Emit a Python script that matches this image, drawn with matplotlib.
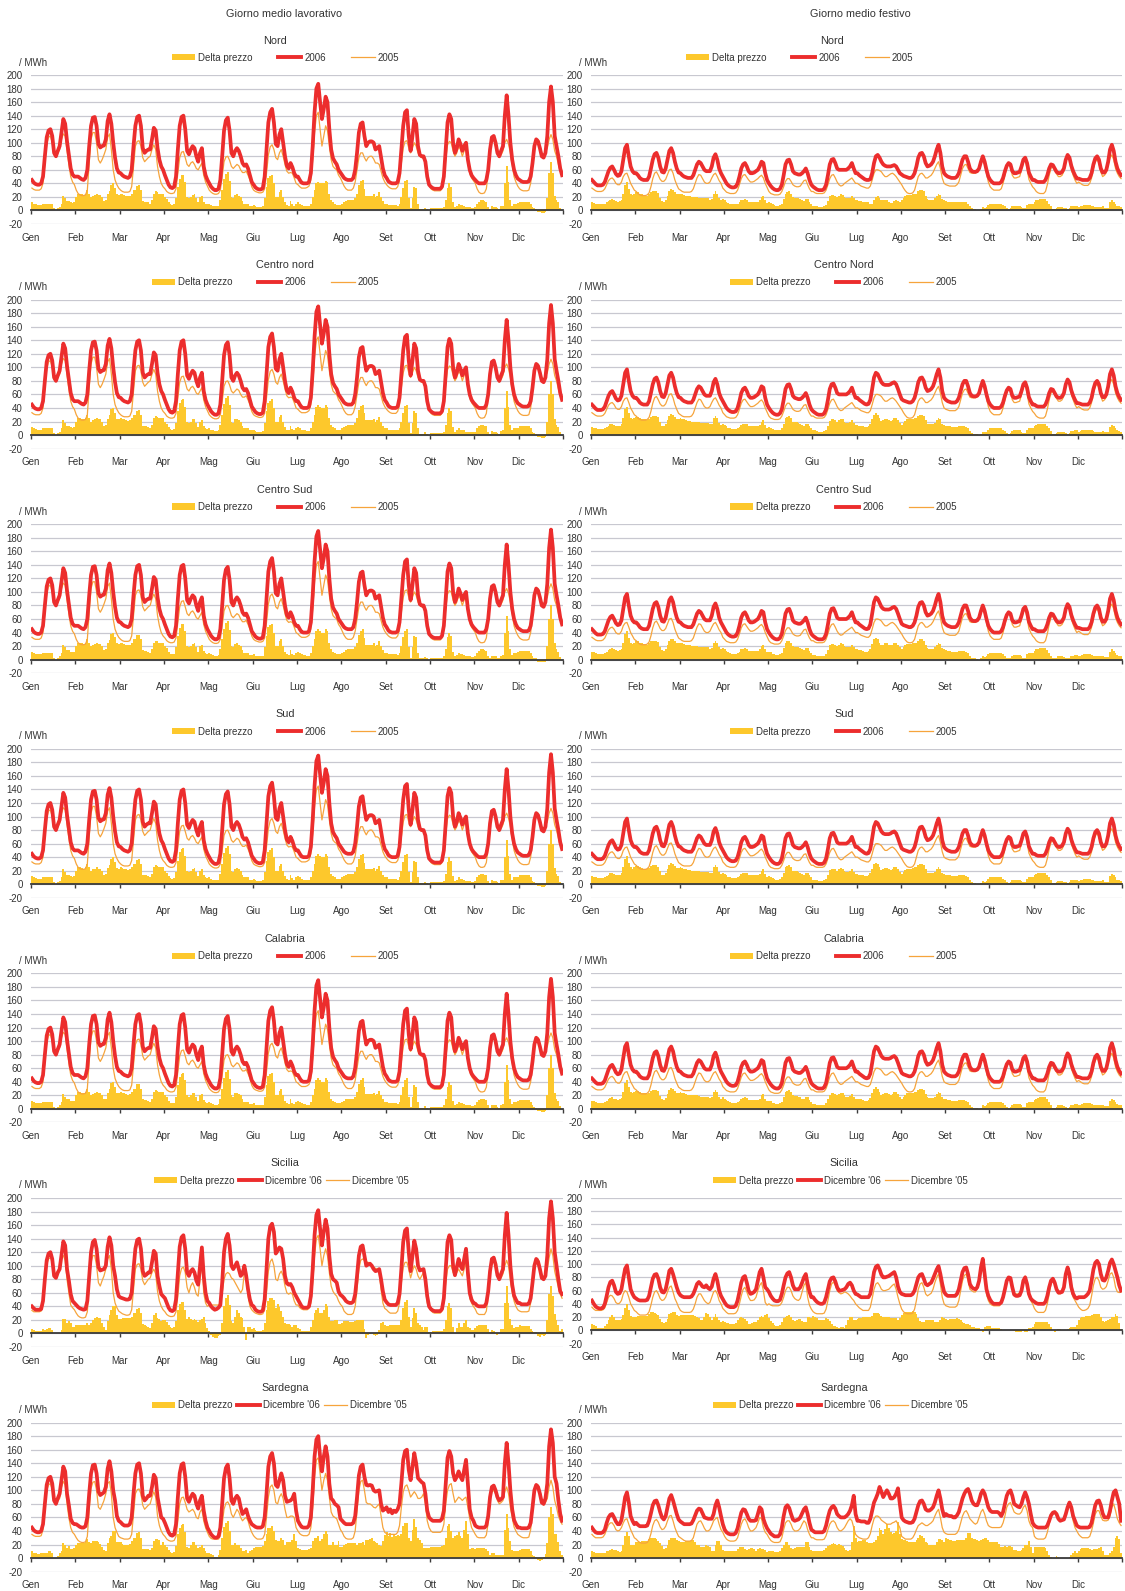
import numpy as np
import matplotlib.pyplot as plt
from matplotlib.patches import Patch
from matplotlib.lines import Line2D

plt.rcParams['font.family'] = ['Liberation Sans', 'DejaVu Sans']

mesi = ['Gen', 'Feb', 'Mar', 'Apr', 'Mag', 'Giu', 'Lug', 'Ago', 'Set', 'Ott', 'Nov', 'Dic']
y_ticks = list(range(-20, 201, 20))

# one row of 24 hourly prices for each month

# giorno lavorativo - Nord
nord_lav_06 = [
    [45, 41, 39, 38, 38, 40, 50, 80, 108, 118, 120, 110, 85, 80, 88, 95, 115, 135, 128, 102, 82, 62, 53, 50],
    [50, 50, 48, 46, 45, 48, 60, 95, 125, 137, 138, 125, 98, 93, 95, 96, 105, 132, 142, 128, 100, 78, 62, 56],
    [55, 52, 50, 49, 48, 50, 60, 95, 125, 138, 140, 125, 92, 85, 88, 90, 90, 105, 122, 118, 92, 75, 65, 60],
    [52, 45, 38, 34, 33, 35, 50, 90, 125, 138, 140, 120, 88, 83, 90, 95, 92, 80, 72, 85, 92, 65, 52, 45],
    [40, 35, 32, 30, 30, 32, 45, 80, 118, 133, 137, 118, 85, 80, 88, 92, 88, 80, 70, 66, 68, 62, 52, 42],
    [38, 34, 32, 31, 31, 33, 50, 90, 130, 145, 150, 130, 98, 95, 112, 120, 100, 80, 66, 62, 70, 64, 55, 50],
    [50, 45, 41, 40, 40, 40, 42, 55, 95, 145, 180, 187, 160, 135, 150, 168, 160, 120, 90, 77, 72, 68, 60, 56],
    [52, 48, 46, 45, 45, 45, 48, 60, 85, 115, 128, 130, 110, 95, 100, 102, 102, 100, 90, 92, 95, 78, 62, 52],
    [48, 43, 41, 40, 40, 40, 42, 55, 90, 125, 145, 148, 110, 88, 110, 135, 128, 95, 82, 80, 80, 72, 50, 38],
    [35, 33, 32, 32, 32, 32, 35, 50, 90, 130, 142, 135, 100, 85, 92, 105, 98, 88, 95, 100, 75, 60, 52, 48],
    [45, 42, 40, 40, 40, 40, 45, 60, 90, 108, 110, 100, 85, 80, 88, 95, 140, 170, 140, 100, 75, 60, 52, 47],
    [45, 43, 42, 42, 42, 43, 50, 70, 95, 105, 102, 92, 80, 78, 85, 110, 160, 183, 160, 110, 95, 80, 62, 52],
]
nord_lav_05 = [
    [33, 31, 30, 30, 30, 32, 40, 70, 98, 108, 110, 100, 82, 80, 85, 90, 105, 113, 110, 88, 68, 50, 42, 38],
    [30, 25, 23, 22, 22, 23, 30, 70, 105, 115, 115, 100, 75, 70, 75, 82, 90, 108, 113, 90, 60, 45, 38, 33],
    [30, 28, 27, 27, 27, 28, 35, 65, 95, 102, 103, 95, 78, 72, 75, 78, 80, 90, 97, 90, 65, 50, 40, 35],
    [32, 28, 26, 25, 25, 26, 32, 55, 78, 86, 87, 78, 68, 65, 70, 72, 68, 62, 60, 65, 70, 52, 42, 36],
    [30, 27, 25, 24, 24, 25, 30, 50, 72, 79, 80, 74, 65, 62, 65, 68, 66, 60, 56, 56, 58, 52, 45, 35],
    [30, 28, 27, 26, 26, 27, 32, 55, 82, 94, 97, 90, 78, 75, 85, 90, 80, 68, 58, 55, 56, 55, 48, 40],
    [38, 35, 33, 33, 33, 34, 36, 45, 75, 115, 140, 145, 120, 95, 110, 125, 118, 95, 75, 65, 62, 60, 52, 48],
    [42, 36, 32, 30, 30, 30, 33, 42, 60, 78, 85, 85, 78, 73, 78, 80, 80, 76, 70, 70, 68, 58, 48, 42],
    [38, 35, 33, 32, 32, 32, 35, 45, 70, 92, 102, 103, 92, 85, 92, 100, 95, 85, 80, 78, 78, 68, 48, 38],
    [32, 30, 29, 29, 29, 29, 32, 45, 75, 97, 102, 100, 88, 80, 85, 95, 90, 80, 88, 95, 70, 55, 48, 44],
    [40, 32, 27, 25, 25, 26, 32, 55, 88, 102, 105, 95, 82, 78, 82, 88, 100, 105, 98, 85, 68, 50, 42, 36],
    [32, 30, 29, 29, 29, 30, 40, 65, 92, 103, 105, 95, 84, 82, 88, 92, 105, 112, 105, 88, 80, 68, 58, 52],
]

# giorno lavorativo - centre / south zones: same as Nord except July and December
centro_lav_06 = [list(m) for m in nord_lav_06]
centro_lav_06[6] = [50, 45, 41, 40, 40, 40, 42, 55, 95, 145, 182, 190, 162, 135, 150, 170, 160, 120, 90, 77, 72, 68, 60, 56]
centro_lav_06[11] = [45, 43, 42, 42, 42, 43, 50, 70, 95, 105, 102, 92, 80, 78, 85, 112, 165, 192, 165, 112, 95, 80, 62, 52]

# giorno lavorativo - Sicilia
sic_lav_06 = [
    [40, 37, 35, 35, 35, 36, 48, 80, 108, 118, 120, 110, 85, 82, 90, 95, 115, 136, 130, 95, 78, 58, 48, 45],
    [42, 39, 37, 36, 35, 36, 48, 85, 120, 135, 138, 125, 98, 93, 94, 95, 100, 128, 142, 130, 100, 85, 65, 55],
    [53, 52, 51, 50, 50, 51, 60, 95, 125, 138, 140, 125, 92, 85, 87, 90, 90, 105, 122, 118, 85, 70, 58, 55],
    [52, 45, 38, 34, 33, 35, 50, 90, 128, 142, 145, 125, 90, 85, 92, 95, 90, 78, 72, 100, 127, 85, 60, 48],
    [45, 40, 37, 35, 36, 38, 42, 75, 120, 140, 147, 130, 100, 95, 100, 105, 95, 85, 88, 100, 85, 65, 50, 42],
    [40, 35, 33, 32, 32, 34, 50, 95, 140, 158, 162, 150, 118, 122, 127, 125, 110, 85, 74, 72, 73, 68, 60, 55],
    [50, 45, 40, 38, 38, 38, 40, 55, 95, 145, 175, 182, 155, 130, 150, 168, 155, 115, 88, 80, 78, 75, 62, 57],
    [55, 52, 48, 46, 45, 45, 47, 58, 85, 115, 128, 130, 115, 100, 102, 103, 100, 95, 92, 93, 95, 80, 62, 50],
    [46, 43, 42, 42, 42, 42, 45, 58, 95, 135, 152, 155, 120, 92, 115, 137, 125, 100, 93, 94, 95, 80, 55, 40],
    [36, 34, 33, 33, 33, 33, 36, 52, 95, 135, 145, 138, 100, 86, 98, 110, 100, 95, 110, 125, 90, 60, 50, 45],
    [44, 41, 40, 40, 40, 40, 45, 62, 92, 110, 112, 102, 86, 80, 88, 95, 145, 178, 145, 100, 72, 56, 50, 45],
    [45, 43, 43, 43, 43, 44, 52, 75, 100, 110, 106, 95, 82, 80, 85, 115, 170, 195, 170, 120, 100, 80, 62, 58],
]
sic_lav_05 = [
    [34, 32, 32, 32, 32, 33, 42, 75, 102, 110, 112, 105, 85, 82, 90, 95, 110, 115, 108, 80, 60, 42, 38, 35],
    [30, 26, 24, 23, 23, 24, 32, 72, 105, 115, 115, 100, 75, 70, 78, 85, 95, 110, 115, 95, 60, 45, 38, 33],
    [31, 29, 28, 27, 27, 28, 35, 65, 95, 102, 103, 95, 78, 72, 76, 80, 82, 90, 95, 88, 62, 48, 40, 35],
    [32, 28, 26, 25, 25, 26, 32, 55, 85, 96, 98, 90, 68, 60, 70, 75, 68, 58, 55, 80, 105, 60, 45, 40],
    [42, 42, 42, 42, 42, 42, 45, 60, 80, 88, 90, 88, 82, 80, 75, 70, 65, 60, 65, 90, 95, 55, 40, 35],
    [32, 30, 29, 28, 28, 29, 35, 60, 92, 106, 110, 100, 80, 78, 88, 92, 85, 70, 60, 58, 60, 58, 48, 42],
    [42, 38, 36, 35, 35, 35, 37, 45, 75, 115, 140, 145, 125, 100, 115, 125, 115, 90, 70, 62, 58, 55, 48, 43],
    [40, 33, 30, 28, 28, 28, 30, 40, 65, 95, 108, 110, 108, 106, 105, 104, 100, 98, 96, 95, 90, 65, 45, 37],
    [35, 32, 30, 30, 30, 30, 33, 45, 75, 98, 105, 105, 95, 82, 92, 100, 95, 85, 80, 85, 90, 70, 45, 38],
    [34, 31, 30, 30, 30, 30, 33, 45, 75, 95, 100, 100, 90, 85, 90, 95, 90, 85, 95, 105, 80, 52, 45, 40],
    [36, 30, 28, 28, 28, 28, 33, 55, 90, 105, 108, 102, 88, 80, 82, 88, 100, 108, 100, 78, 60, 48, 40, 35],
    [33, 32, 32, 32, 32, 33, 45, 72, 98, 108, 110, 100, 85, 84, 88, 95, 112, 125, 115, 92, 80, 68, 58, 52],
]

# giorno lavorativo - Sardegna
sar_lav_06 = [
    [45, 41, 39, 38, 38, 40, 50, 80, 108, 118, 120, 110, 85, 80, 88, 95, 115, 135, 128, 95, 78, 58, 52, 50],
    [50, 48, 46, 45, 45, 47, 60, 95, 125, 137, 138, 125, 98, 93, 95, 97, 105, 132, 143, 128, 100, 85, 62, 55],
    [53, 50, 48, 48, 48, 50, 60, 95, 125, 138, 140, 125, 92, 85, 88, 92, 92, 105, 123, 118, 90, 75, 60, 58],
    [52, 45, 38, 34, 33, 35, 50, 90, 125, 138, 140, 120, 88, 83, 90, 95, 92, 80, 73, 85, 92, 70, 55, 45],
    [40, 35, 32, 30, 30, 32, 45, 80, 118, 133, 138, 118, 85, 80, 88, 92, 88, 75, 65, 68, 72, 62, 55, 50],
    [48, 46, 45, 45, 45, 47, 60, 95, 135, 150, 155, 140, 108, 105, 115, 125, 115, 92, 83, 84, 85, 88, 95, 70],
    [55, 50, 46, 45, 45, 45, 48, 60, 100, 150, 175, 180, 150, 128, 150, 165, 150, 110, 88, 85, 80, 78, 75, 58],
    [55, 52, 50, 50, 50, 50, 52, 62, 90, 122, 135, 138, 120, 108, 107, 108, 107, 100, 98, 99, 100, 80, 70, 72],
    [75, 68, 72, 66, 70, 68, 72, 80, 110, 145, 158, 160, 130, 115, 135, 155, 140, 118, 115, 112, 110, 95, 70, 60],
    [57, 55, 55, 55, 55, 55, 58, 70, 110, 148, 158, 150, 125, 115, 120, 128, 120, 115, 130, 145, 110, 72, 60, 55],
    [48, 46, 45, 45, 45, 45, 48, 62, 90, 105, 107, 100, 90, 85, 87, 90, 140, 170, 140, 100, 72, 56, 50, 45],
    [45, 44, 44, 44, 44, 45, 52, 75, 100, 108, 105, 95, 82, 80, 88, 110, 165, 190, 170, 120, 110, 85, 65, 55],
]
sar_lav_05 = [
    [35, 33, 32, 32, 32, 33, 42, 72, 100, 108, 110, 102, 85, 80, 85, 88, 105, 113, 108, 80, 60, 45, 38, 35],
    [30, 26, 24, 23, 23, 24, 32, 72, 103, 112, 113, 100, 75, 72, 78, 85, 95, 110, 113, 95, 60, 45, 38, 32],
    [30, 29, 28, 28, 28, 29, 35, 65, 95, 101, 102, 95, 78, 72, 75, 78, 80, 90, 98, 90, 62, 48, 40, 35],
    [32, 28, 26, 25, 25, 26, 32, 55, 80, 89, 90, 82, 72, 68, 70, 72, 68, 60, 58, 68, 72, 55, 45, 38],
    [32, 29, 28, 28, 28, 28, 33, 50, 72, 81, 83, 78, 65, 60, 66, 72, 68, 60, 55, 58, 60, 55, 45, 38],
    [33, 30, 28, 28, 28, 29, 35, 60, 90, 105, 108, 100, 82, 80, 90, 95, 88, 72, 60, 60, 62, 62, 60, 45],
    [40, 36, 34, 33, 33, 33, 35, 45, 75, 120, 145, 148, 125, 100, 115, 125, 115, 90, 68, 62, 60, 58, 50, 42],
    [38, 32, 29, 28, 28, 28, 30, 40, 70, 100, 113, 115, 100, 82, 80, 80, 78, 75, 74, 77, 80, 62, 45, 38],
    [36, 35, 35, 35, 35, 35, 38, 48, 75, 98, 106, 108, 100, 90, 94, 98, 94, 88, 88, 90, 95, 80, 55, 45],
    [40, 38, 38, 38, 38, 38, 40, 50, 80, 100, 108, 110, 95, 82, 86, 90, 88, 85, 88, 90, 75, 58, 45, 40],
    [35, 31, 30, 30, 30, 30, 34, 52, 85, 98, 100, 95, 85, 80, 82, 85, 98, 105, 95, 75, 60, 46, 40, 35],
    [33, 31, 30, 30, 30, 31, 42, 70, 97, 106, 108, 100, 85, 78, 82, 88, 105, 115, 105, 85, 75, 62, 55, 50],
]

# giorno festivo - Nord
nord_fest_06 = [
    [45, 42, 39, 37, 37, 37, 38, 42, 50, 58, 63, 65, 60, 54, 51, 52, 58, 75, 92, 97, 80, 65, 58, 55],
    [55, 52, 48, 46, 45, 45, 45, 50, 62, 75, 83, 85, 78, 65, 57, 56, 62, 75, 88, 92, 85, 72, 62, 56],
    [55, 52, 50, 49, 48, 48, 48, 52, 60, 68, 72, 70, 65, 60, 58, 58, 58, 65, 78, 83, 75, 62, 55, 50],
    [45, 40, 37, 35, 34, 34, 35, 40, 50, 62, 68, 70, 65, 58, 55, 55, 56, 58, 60, 65, 72, 70, 55, 45],
    [40, 36, 33, 31, 30, 30, 32, 38, 52, 68, 74, 75, 68, 58, 55, 54, 53, 53, 55, 58, 62, 55, 45, 38],
    [35, 33, 31, 30, 30, 30, 32, 38, 52, 68, 75, 76, 70, 62, 60, 60, 60, 60, 60, 62, 65, 70, 62, 55],
    [55, 52, 50, 48, 46, 45, 45, 46, 55, 70, 80, 82, 78, 72, 68, 66, 65, 65, 65, 66, 67, 65, 60, 55],
    [53, 51, 50, 49, 48, 48, 50, 55, 65, 78, 84, 85, 80, 70, 65, 66, 68, 72, 80, 90, 97, 85, 65, 55],
    [52, 50, 49, 48, 48, 48, 50, 55, 65, 75, 80, 80, 72, 62, 58, 57, 57, 58, 62, 72, 80, 72, 60, 50],
    [45, 42, 40, 40, 40, 40, 42, 48, 58, 66, 70, 68, 58, 55, 55, 56, 57, 65, 75, 78, 70, 56, 50, 45],
    [45, 43, 42, 42, 42, 42, 45, 52, 62, 68, 67, 62, 57, 55, 55, 57, 62, 75, 82, 78, 66, 58, 52, 47],
    [47, 46, 45, 45, 45, 45, 48, 55, 68, 77, 80, 75, 62, 56, 56, 60, 72, 90, 97, 88, 72, 62, 56, 52],
]
nord_fest_05 = [
    [33, 31, 29, 28, 28, 28, 29, 32, 38, 44, 47, 48, 45, 40, 38, 38, 42, 50, 54, 55, 48, 40, 35, 30],
    [28, 25, 23, 22, 22, 22, 23, 26, 35, 47, 55, 57, 52, 46, 43, 43, 46, 53, 60, 61, 55, 45, 38, 32],
    [30, 28, 27, 27, 27, 27, 28, 32, 40, 48, 53, 52, 47, 42, 40, 40, 42, 48, 53, 55, 50, 44, 40, 33],
    [30, 27, 26, 25, 25, 25, 26, 30, 38, 47, 52, 53, 49, 45, 42, 42, 43, 45, 47, 50, 52, 48, 40, 34],
    [28, 25, 24, 23, 23, 23, 24, 28, 35, 43, 47, 47, 43, 38, 36, 35, 35, 36, 40, 44, 45, 38, 32, 28],
    [28, 26, 25, 25, 25, 25, 26, 30, 38, 47, 52, 53, 48, 42, 38, 36, 37, 40, 42, 44, 46, 48, 44, 40],
    [40, 38, 36, 35, 34, 33, 33, 36, 45, 55, 60, 60, 59, 57, 53, 50, 50, 52, 54, 55, 53, 50, 46, 42],
    [38, 33, 29, 26, 25, 25, 26, 30, 40, 50, 54, 55, 52, 48, 48, 50, 52, 56, 62, 68, 72, 62, 48, 40],
    [38, 37, 36, 36, 36, 36, 38, 42, 52, 62, 67, 68, 62, 56, 55, 55, 55, 57, 62, 70, 75, 68, 55, 42],
    [35, 32, 30, 30, 30, 30, 32, 40, 52, 63, 68, 65, 52, 48, 48, 49, 50, 60, 72, 75, 62, 46, 40, 35],
    [32, 28, 26, 25, 25, 25, 28, 38, 52, 62, 65, 60, 54, 50, 50, 52, 58, 72, 80, 75, 60, 52, 45, 40],
    [42, 40, 38, 37, 37, 37, 40, 48, 62, 72, 75, 70, 57, 50, 52, 56, 68, 78, 82, 75, 62, 55, 50, 47],
]

# giorno festivo - centre / south zones: same as Nord except July
centro_fest_06 = [list(m) for m in nord_fest_06]
centro_fest_06[6] = [55, 52, 50, 48, 46, 45, 46, 52, 68, 85, 92, 90, 84, 78, 75, 74, 74, 74, 75, 77, 78, 75, 68, 60]

# giorno festivo - Sicilia
sic_fest_06 = [
    [45, 40, 36, 34, 33, 33, 34, 40, 52, 65, 73, 75, 68, 58, 55, 56, 62, 78, 93, 98, 80, 62, 55, 50],
    [48, 46, 45, 45, 45, 45, 46, 52, 65, 78, 84, 85, 78, 65, 58, 57, 62, 75, 90, 93, 85, 75, 65, 57],
    [53, 51, 50, 50, 50, 50, 51, 55, 62, 70, 73, 70, 66, 65, 68, 64, 62, 66, 78, 85, 75, 60, 52, 47],
    [42, 38, 36, 35, 35, 35, 37, 45, 58, 72, 80, 82, 72, 60, 55, 56, 58, 62, 75, 88, 93, 80, 65, 62],
    [58, 52, 48, 45, 44, 44, 46, 55, 68, 80, 86, 88, 80, 68, 62, 62, 62, 65, 72, 80, 85, 70, 58, 50],
    [50, 46, 43, 41, 40, 40, 42, 50, 62, 74, 79, 80, 74, 65, 60, 60, 61, 62, 65, 70, 72, 68, 60, 55],
    [54, 52, 50, 50, 50, 50, 50, 55, 70, 88, 96, 98, 92, 84, 80, 80, 81, 82, 84, 86, 88, 80, 66, 58],
    [55, 54, 53, 53, 53, 53, 55, 60, 70, 80, 84, 85, 78, 70, 68, 70, 72, 78, 85, 92, 97, 85, 70, 58],
    [54, 52, 52, 52, 52, 52, 55, 62, 75, 88, 94, 95, 85, 70, 65, 63, 62, 65, 75, 95, 108, 85, 62, 52],
    [46, 42, 40, 40, 40, 40, 42, 50, 62, 75, 80, 79, 65, 54, 52, 52, 53, 60, 75, 80, 70, 55, 48, 45],
    [43, 41, 40, 40, 40, 40, 43, 52, 65, 75, 78, 72, 62, 57, 57, 58, 65, 85, 95, 85, 65, 55, 50, 48],
    [50, 50, 50, 50, 52, 55, 60, 75, 92, 102, 105, 100, 85, 76, 75, 80, 90, 102, 107, 100, 90, 80, 68, 60],
]
sic_fest_05 = [
    [35, 32, 30, 30, 30, 30, 31, 34, 42, 50, 53, 52, 48, 42, 40, 41, 45, 55, 60, 58, 50, 40, 35, 30],
    [28, 25, 23, 23, 23, 23, 24, 28, 38, 50, 58, 60, 55, 48, 45, 46, 50, 58, 65, 67, 58, 48, 42, 35],
    [30, 28, 27, 27, 27, 27, 28, 32, 40, 50, 55, 55, 50, 45, 42, 40, 42, 50, 58, 60, 55, 45, 40, 33],
    [30, 27, 25, 25, 25, 25, 26, 30, 40, 52, 62, 65, 58, 50, 45, 45, 46, 50, 60, 68, 72, 60, 42, 38],
    [40, 38, 37, 37, 37, 37, 38, 42, 50, 60, 65, 65, 60, 52, 48, 46, 45, 48, 58, 68, 72, 50, 38, 32],
    [28, 26, 25, 25, 25, 25, 26, 32, 45, 60, 70, 73, 68, 60, 57, 55, 56, 58, 57, 55, 52, 48, 45, 40],
    [37, 34, 32, 30, 30, 30, 30, 35, 48, 62, 70, 72, 68, 62, 60, 60, 61, 62, 65, 68, 70, 62, 50, 40],
    [32, 28, 26, 25, 25, 25, 26, 32, 45, 62, 70, 72, 65, 55, 52, 54, 56, 62, 72, 80, 85, 70, 50, 40],
    [37, 36, 35, 35, 35, 35, 37, 45, 60, 75, 83, 85, 75, 62, 60, 58, 58, 62, 72, 95, 110, 80, 55, 45],
    [40, 38, 37, 37, 37, 37, 40, 50, 62, 75, 80, 78, 65, 55, 55, 55, 56, 62, 75, 82, 72, 52, 45, 40],
    [33, 29, 27, 27, 27, 27, 30, 40, 55, 70, 77, 75, 62, 55, 55, 58, 65, 85, 93, 82, 60, 50, 45, 40],
    [35, 32, 30, 30, 31, 33, 38, 52, 68, 78, 80, 75, 65, 62, 63, 66, 75, 85, 87, 80, 65, 58, 57, 58],
]

# giorno festivo - Sardegna
sar_fest_06 = [
    [45, 41, 38, 37, 37, 37, 38, 42, 52, 60, 64, 65, 60, 54, 50, 50, 56, 72, 90, 97, 82, 62, 55, 50],
    [52, 49, 47, 47, 47, 47, 48, 55, 66, 78, 84, 85, 78, 68, 60, 57, 62, 75, 88, 93, 85, 75, 65, 57],
    [54, 52, 50, 50, 50, 50, 51, 56, 63, 70, 73, 72, 66, 60, 59, 58, 58, 58, 65, 78, 85, 75, 62, 50],
    [42, 38, 36, 35, 35, 35, 37, 44, 56, 67, 72, 71, 65, 58, 55, 55, 55, 56, 65, 75, 72, 58, 50, 44],
    [40, 36, 34, 32, 32, 32, 35, 45, 62, 75, 78, 74, 65, 57, 55, 56, 57, 60, 66, 72, 75, 65, 52, 42],
    [40, 38, 38, 38, 38, 38, 40, 48, 60, 70, 75, 77, 73, 65, 62, 60, 60, 60, 62, 65, 70, 78, 92, 65],
    [55, 55, 54, 54, 54, 52, 52, 58, 70, 82, 88, 95, 105, 98, 90, 95, 100, 95, 88, 88, 90, 95, 103, 80],
    [60, 56, 54, 53, 52, 52, 53, 58, 68, 78, 84, 85, 80, 72, 70, 70, 72, 75, 82, 92, 100, 88, 72, 62],
    [65, 63, 62, 62, 60, 60, 63, 68, 78, 88, 95, 100, 102, 95, 85, 80, 78, 78, 85, 95, 100, 95, 85, 75],
    [70, 68, 68, 68, 68, 66, 62, 68, 80, 92, 98, 100, 92, 80, 78, 76, 75, 80, 90, 97, 90, 80, 65, 52],
    [48, 46, 45, 45, 45, 45, 45, 48, 55, 63, 67, 68, 65, 58, 55, 56, 57, 65, 75, 82, 75, 62, 55, 48],
    [46, 45, 45, 45, 45, 45, 46, 52, 65, 78, 84, 85, 78, 66, 60, 60, 60, 70, 85, 97, 100, 90, 80, 55],
]
sar_fest_05 = [
    [35, 32, 30, 30, 30, 30, 31, 35, 42, 49, 52, 52, 48, 42, 40, 41, 45, 52, 57, 58, 50, 42, 36, 30],
    [28, 25, 23, 22, 22, 22, 23, 27, 36, 48, 55, 57, 53, 46, 42, 43, 47, 55, 62, 63, 55, 45, 38, 32],
    [30, 28, 26, 25, 25, 25, 26, 30, 40, 50, 54, 55, 50, 44, 40, 40, 42, 48, 55, 58, 60, 50, 42, 38],
    [32, 28, 26, 25, 25, 25, 26, 30, 40, 50, 56, 58, 53, 45, 40, 40, 42, 45, 52, 60, 58, 45, 38, 35],
    [30, 26, 24, 23, 23, 23, 24, 30, 42, 52, 55, 55, 50, 43, 40, 40, 41, 44, 50, 55, 52, 42, 35, 30],
    [30, 28, 27, 27, 27, 27, 28, 33, 42, 50, 54, 55, 52, 45, 41, 40, 42, 45, 50, 55, 58, 55, 45, 35],
    [32, 30, 29, 28, 28, 28, 30, 36, 48, 58, 62, 62, 60, 56, 54, 52, 50, 50, 50, 52, 53, 55, 50, 45],
    [32, 30, 28, 28, 28, 28, 30, 35, 42, 48, 50, 52, 50, 48, 48, 50, 52, 55, 62, 68, 72, 60, 45, 38],
    [36, 35, 35, 35, 35, 35, 37, 42, 52, 62, 68, 70, 65, 58, 55, 52, 50, 52, 60, 68, 72, 65, 55, 48],
    [46, 45, 45, 45, 45, 45, 46, 52, 62, 75, 80, 82, 75, 68, 66, 65, 65, 68, 75, 78, 70, 55, 48, 45],
    [32, 29, 28, 28, 28, 28, 30, 38, 50, 62, 67, 68, 62, 56, 55, 56, 57, 65, 75, 80, 70, 55, 45, 40],
    [35, 32, 30, 30, 30, 30, 32, 40, 52, 65, 70, 70, 62, 56, 55, 55, 56, 62, 75, 80, 70, 58, 52, 48],
]

zone_lav = ['Nord', 'Centro nord', 'Centro Sud', 'Sud', 'Calabria', 'Sicilia', 'Sardegna']
zone_fest = ['Nord', 'Centro Nord', 'Centro Sud', 'Sud', 'Calabria', 'Sicilia', 'Sardegna']

RED = '#EC2D2D'
ORANGE = '#F6A43C'
YELLOW = '#FDC82C'
GRID = '#C8C8D0'
TXT = '#333333'

W, H = 1125, 1591
fig = plt.figure(figsize=(W / 100, H / 100), dpi=100)
fig.patch.set_facecolor('white')


def panel(col, row, title, s06, s05, lab06, lab05, title_x, leg_x, leg_gap, bot_px):
    x0 = 31 if col == 0 else 591
    x1 = 563 if col == 0 else 1122
    top = 75 + 224.6 * row
    bot = bot_px + 224.6 * row
    ax = fig.add_axes([x0 / W, 1 - bot / H, (x1 - x0) / W, (bot - top) / H])

    a = np.array(s06, dtype=float).ravel()
    b = np.array(s05, dtype=float).ravel()
    d = a - b
    x = np.arange(len(a)) + 0.5

    ax.bar(x, d, width=1.0, color=YELLOW, linewidth=0, zorder=2)
    ax.plot(x, b, color=ORANGE, lw=0.9, zorder=3)
    ax.plot(x, a, color=RED, lw=2.7, zorder=4, solid_joinstyle='round')

    ax.set_xlim(0, len(a))
    ax.set_ylim(-20, 200)
    ax.set_yticks(y_ticks)
    ax.set_yticklabels([str(v) for v in y_ticks])
    ax.grid(axis='y', color=GRID, lw=0.9, zorder=0)
    ax.set_axisbelow(True)

    for s in ['top', 'right', 'left']:
        ax.spines[s].set_visible(False)
    ax.spines['bottom'].set_position(('data', 0))
    ax.spines['bottom'].set_color('#3a3a3a')
    ax.spines['bottom'].set_linewidth(1.3)
    ax.spines['bottom'].set_zorder(5)

    ax.set_xticks(np.arange(0, len(a) + 1, 24))
    ax.set_xticklabels(mesi + [''])
    ax.tick_params(axis='x', direction='out', length=3, width=1, color='#3a3a3a',
                   pad=13, labelsize=7, labelcolor=TXT)
    ax.tick_params(axis='y', length=0, pad=6, labelsize=7, labelcolor=TXT)

    fig.text(title_x / W, 1 - (40.5 + 224.6 * row) / H, title, ha='center', va='center',
             fontsize=7.8, color=TXT)
    fig.text((x0 - 12) / W, 1 - (62.5 + 224.6 * row) / H, '/ MWh', ha='left', va='center',
             fontsize=7, color=TXT)

    handles = [Patch(facecolor=YELLOW, edgecolor='none'),
               Line2D([], [], color=RED, lw=2.8),
               Line2D([], [], color=ORANGE, lw=0.9)]
    fig.legend(handles, ['Delta prezzo', lab06, lab05], loc='center left',
               bbox_to_anchor=(leg_x / W, 1 - (57.7 + 224.6 * row) / H),
               bbox_transform=fig.transFigure, ncol=3, frameon=False,
               fontsize=7, handlelength=2.4, handleheight=0.6, handletextpad=0.3,
               columnspacing=leg_gap, borderpad=0, borderaxespad=0, labelcolor=TXT)
    return ax


lav_data = ([(nord_lav_06, nord_lav_05)] + [(centro_lav_06, nord_lav_05)] * 4
            + [(sic_lav_06, sic_lav_05), (sar_lav_06, sar_lav_05)])
fest_data = ([(nord_fest_06, nord_fest_05)] + [(centro_fest_06, nord_fest_05)] * 4
             + [(sic_fest_06, sic_fest_05), (sar_fest_06, sar_fest_05)])

lab_06 = ['2006'] * 5 + ["Dicembre '06"] * 2
lab_05 = ['2005'] * 5 + ["Dicembre '05"] * 2

tit_x_l = [275, 285, 285, 285, 285, 285, 285]
tit_x_r = [832, 844, 844, 844, 844, 844, 844]
leg_x_l = [172, 152, 172, 172, 172, 154, 152]
leg_x_r = [686, 730, 730, 730, 730, 713, 713]
gap = [2.6] * 5 + [0.4] * 2
bot_l = [224] * 7
bot_r = [224] * 5 + [220.5, 224]

for i in range(7):
    panel(0, i, zone_lav[i], lav_data[i][0], lav_data[i][1], lab_06[i], lab_05[i],
          tit_x_l[i], leg_x_l[i], gap[i], bot_l[i])
    panel(1, i, zone_fest[i], fest_data[i][0], fest_data[i][1], lab_06[i], lab_05[i],
          tit_x_r[i], leg_x_r[i], gap[i], bot_r[i])

fig.text(284 / W, 1 - 14.3 / H, 'Giorno medio lavorativo', ha='center', va='center',
         fontsize=7.8, color=TXT)
fig.text(860 / W, 1 - 14.3 / H, 'Giorno medio festivo', ha='center', va='center',
         fontsize=7.8, color=TXT)

fig.savefig('out.png', dpi=100)
